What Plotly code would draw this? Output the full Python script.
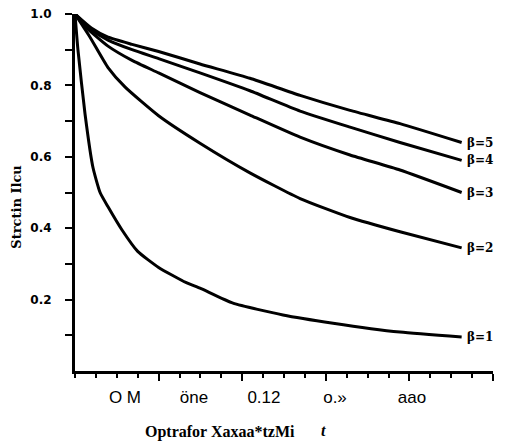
import plotly.graph_objects as go

# ---- data ----
x_b1 = [0, 0.0014, 0.0048, 0.0086, 0.012, 0.0158, 0.0225, 0.030, 0.040, 0.053, 0.0598, 0.0756, 0.0995, 0.1235, 0.1555, 0.185]
y_b1 = [1.0, 0.90, 0.72, 0.57, 0.50, 0.46, 0.395, 0.335, 0.29, 0.248, 0.232, 0.19, 0.157, 0.134, 0.109, 0.095]

x_b2 = [0, 0.0072, 0.0158, 0.024, 0.040, 0.0598, 0.0837, 0.1077, 0.1316, 0.1555, 0.185]
y_b2 = [1.0, 0.935, 0.85, 0.795, 0.715, 0.638, 0.555, 0.483, 0.43, 0.39, 0.345]

x_b3 = [0, 0.0048, 0.0158, 0.0273, 0.040, 0.0598, 0.0837, 0.1077, 0.1316, 0.1555, 0.185]
y_b3 = [1.0, 0.965, 0.91, 0.87, 0.835, 0.78, 0.717, 0.655, 0.605, 0.563, 0.50]

x_b4 = [0, 0.008, 0.0158, 0.0273, 0.040, 0.0598, 0.0837, 0.1077, 0.1316, 0.1555, 0.185]
y_b4 = [1.0, 0.955, 0.927, 0.90, 0.875, 0.835, 0.785, 0.728, 0.683, 0.64, 0.59]

x_b5 = [0, 0.008, 0.0158, 0.0273, 0.040, 0.0598, 0.0837, 0.1077, 0.1316, 0.1555, 0.185]
y_b5 = [1.0, 0.96, 0.935, 0.915, 0.895, 0.86, 0.82, 0.772, 0.73, 0.693, 0.64]

series_names = ["β=1", "β=2", "β=3", "β=4", "β=5"]

y_tickvals = [0.1, 0.2, 0.3, 0.4, 0.5, 0.6, 0.7, 0.8, 0.9, 1.0]
y_ticktext = ["", "0.2", "", "0.4", "", "0.6", "", "0.8", "", "1.0"]

x_major_ticks = [0.04, 0.08, 0.12, 0.16, 0.20]
x_label_pos = [0.0239, 0.0569, 0.0904, 0.1244, 0.1612]
x_label_text = ["O M", "öne", "0.12", "o.»", "aao"]

x_title = "Optrafor Xaxaa*tzMi"
x_title_extra = "t"
y_title = "Strctin Ilcu"

# ---- figure ----
fig = go.Figure()
all_series = [(x_b1, y_b1), (x_b2, y_b2), (x_b3, y_b3), (x_b4, y_b4), (x_b5, y_b5)]
for (xs, ys), name in zip(all_series, series_names):
    fig.add_trace(go.Scatter(x=xs, y=ys, mode="lines", name=name,
                             line=dict(color="black", width=3, shape="spline", smoothing=0.5),
                             showlegend=False, cliponaxis=False))
    fig.add_annotation(x=xs[-1], y=ys[-1], xref="x", yref="y", text=name,
                       showarrow=False, xanchor="left", yanchor="middle", xshift=3,
                       font=dict(family="DejaVu Serif", size=12, color="black", weight="bold"))

# invisible trace on the label axis
fig.add_trace(go.Scatter(x=[x_label_pos[0]], y=[0.5], xaxis="x2", mode="markers",
                         marker=dict(opacity=0), showlegend=False, hoverinfo="skip"))

fig.update_layout(
    width=509, height=441,
    margin=dict(l=75, r=16, t=14, b=70, autoexpand=False),
    paper_bgcolor="white", plot_bgcolor="white",
    xaxis=dict(range=[0, 0.20], showgrid=False, zeroline=False, automargin=False,
               showline=True, linecolor="black", linewidth=3,
               tickmode="array", tickvals=x_major_ticks, ticks="outside",
               ticklen=7, tickwidth=2, tickcolor="black", showticklabels=False,
               minor=dict(dtick=0.01, ticks="outside", ticklen=4, tickwidth=1.5, tickcolor="black")),
    xaxis2=dict(range=[0, 0.20], overlaying="x", side="bottom", showgrid=False,
                zeroline=False, showline=False, ticks="", automargin=False,
                tickmode="array", tickvals=x_label_pos, ticktext=x_label_text,
                ticklabelstandoff=14,
                tickfont=dict(family="Liberation Sans", size=17, color="black")),
    yaxis=dict(range=[0, 1.0], showgrid=False, zeroline=False, automargin=False,
               showline=True, linecolor="black", linewidth=3,
               tickmode="array", tickvals=y_tickvals, ticktext=y_ticktext,
               ticks="outside", ticklen=7, tickwidth=2, tickcolor="black",
               ticklabelstandoff=11,
               tickfont=dict(family="DejaVu Sans", size=12, color="black", weight="bold")),
)

fig.add_annotation(x=-0.139, y=0.46, xref="paper", yref="paper", text=y_title,
                   textangle=-90, showarrow=False, xanchor="center", yanchor="middle",
                   font=dict(family="DejaVu Serif", size=13, color="black", weight="bold"))
fig.add_annotation(x=0.347, y=-0.172, xref="paper", yref="paper", text=x_title,
                   showarrow=False, xanchor="center", yanchor="middle",
                   font=dict(family="Liberation Serif", size=16, color="black", weight="bold"))
fig.add_annotation(x=0.595, y=-0.168, xref="paper", yref="paper", text="<i>" + x_title_extra + "</i>",
                   showarrow=False, xanchor="center", yanchor="middle",
                   font=dict(family="Liberation Serif", size=16, color="black", weight="bold"))

fig.write_html("out.html", config={"displayModeBar": False},
               post_script="document.body.style.margin='0px';document.body.style.padding='0px';")
